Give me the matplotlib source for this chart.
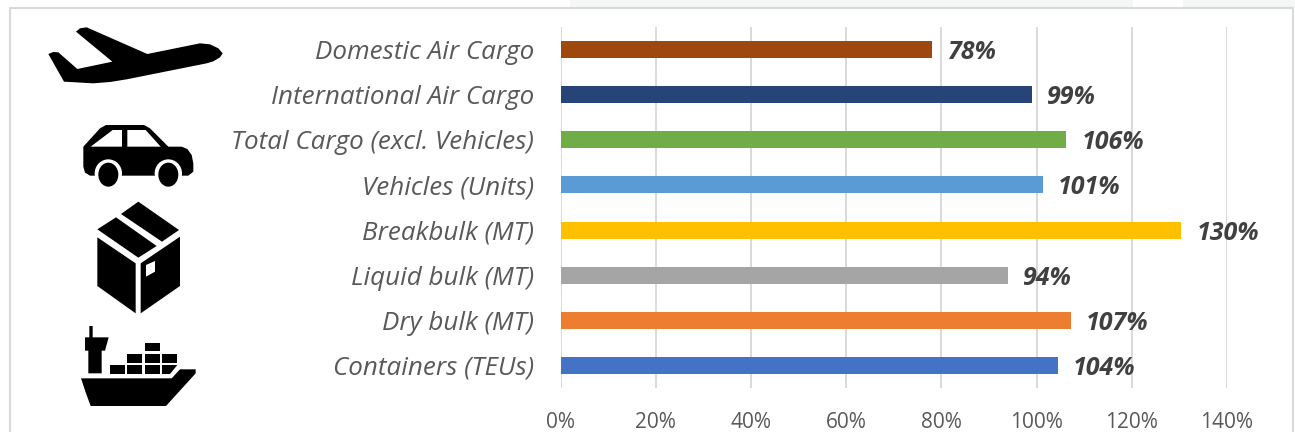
import matplotlib
matplotlib.use("Agg")
import matplotlib.pyplot as plt
from matplotlib.patches import Polygon, Rectangle, Ellipse

# chart data, bottom to top
categories = ["Containers (TEUs)", "Dry bulk (MT)", "Liquid bulk (MT)", "Breakbulk (MT)",
              "Vehicles (Units)", "Total Cargo (excl. Vehicles)", "International Air Cargo", "Domestic Air Cargo"]
values = [104.4, 107.2, 94, 130.4, 101.3, 106.2, 99, 78]
colors = ["#4472C4", "#ED7D31", "#A5A5A5", "#FFC000", "#5B9BD5", "#70AD47", "#264478", "#9E480E"]
x_ticks = [0, 20, 40, 60, 80, 100, 120, 140]

W, H = 1295, 432

plt.rcParams['font.family'] = ['Open Sans', 'DejaVu Sans']
fig = plt.figure(figsize=(W / 100, H / 100), dpi=100, facecolor="white")

# overlay in pixel coordinates for the frame and the icons
bg = fig.add_axes([0, 0, 1, 1], zorder=0)
bg.set_xlim(0, W)
bg.set_ylim(H, 0)
bg.axis("off")

# faint shapes above the frame
bg.add_patch(Rectangle((570, 0), 563, 7, fc="#f5f6f6", ec="none"))
bg.add_patch(Rectangle((1183, 0), 112, 7, fc="#f5f6f6", ec="none"))
# frame
bg.plot([9.5, 9.5, 1293, 1293], [H, 8, 8, H], color="#d9d9d9", lw=1.5)

ax = fig.add_axes([560.5 / W, 1 - 388 / H, 666.5 / W, 361 / H], zorder=1)
ax.patch.set_alpha(0)
y = list(range(len(categories)))
ax.barh(y, values, height=0.377, color=colors, zorder=3)
ax.set_xlim(0, 140)
ax.set_ylim(-0.5, len(categories) - 0.5)
ax.set_xticks(x_ticks)
ax.set_xticklabels([f"{t}%" for t in x_ticks], fontsize=15, color="#595959")
ax.set_yticks(y)
ax.set_yticklabels(categories, fontsize=18.7, style="italic", color="#595959")
ax.tick_params(axis="both", length=0)
ax.tick_params(axis="x", pad=17)
ax.tick_params(axis="y", pad=19)
ax.grid(axis="x", color="#d9d9d9", lw=1.4, zorder=0)
for s in ax.spines.values():
    s.set_visible(False)

for i, v in enumerate(values):
    ax.annotate(f"{v:.0f}%", (v, i), xytext=(11, -2.2), textcoords="offset points", va="center", ha="left",
                fontsize=18, style="italic", weight="bold", color="#404040", zorder=4)


def poly(pts, color="black", z=2):
    bg.add_patch(Polygon([(px / 3, py / 3) for px, py in pts], closed=True, fc=color, ec="none", zorder=z))


def box(x0, y0, x1, y1):
    poly([(x0, y0), (x1, y0), (x1, y1), (x0, y1)])


def ell(cx, cy, rx, ry, color="black", z=3):
    bg.add_patch(Ellipse((cx / 3, cy / 3), 2 * rx / 3, 2 * ry / 3, fc=color, ec="none", zorder=z))


# plane
poly([(145, 162), (160, 156), (175, 157), (232, 207), (337, 185), (228, 95), (240, 85), (260, 82), (442, 162),
      (600, 130), (630, 133), (655, 145), (668, 160), (660, 172), (640, 184), (620, 190), (380, 238), (330, 246),
      (280, 250), (192, 245)])

# car
poly([(250, 440), (300, 385), (318, 375), (432, 375), (450, 385), (505, 440), (545, 440), (562, 447), (575, 465),
      (580, 490), (580, 515), (565, 527), (270, 527), (255, 518), (250, 500)])
poly([(272, 440), (338, 390), (366, 390), (366, 440)], "white", 3)
poly([(382, 390), (437, 390), (482, 440), (382, 440)], "white", 3)
for cx in (325, 505):
    ell(cx, 520, 41, 42, "white", 3)
    ell(cx, 524, 30, 36, "black", 4)

# box
poly([(415, 605), (537, 690), (486, 725), (363, 642)])
poly([(348, 652), (470, 738), (415, 773), (292, 688)])
poly([(292, 712), (407, 790), (407, 940), (292, 858)])
poly([(422, 790), (540, 710), (540, 858), (422, 940)])
poly([(438, 795), (465, 783), (465, 815), (438, 830)], "white", 3)

# ship
poly([(243, 1135), (515, 1135), (540, 1108), (587, 1108), (587, 1120), (498, 1218), (272, 1218), (258, 1180)])
poly([(255, 1012), (268, 1012), (268, 978), (278, 978), (278, 1012), (326, 1012), (315, 1052), (305, 1052),
      (305, 1120), (265, 1120), (265, 1052), (255, 1052)])
box(330, 1095, 375, 1122)
box(381, 1095, 427, 1122)
box(435, 1095, 480, 1122)
poly([(486, 1095), (532, 1095), (510, 1122), (486, 1122)])
box(381, 1062, 427, 1088)
box(435, 1062, 480, 1088)
box(486, 1062, 532, 1088)
box(435, 1028, 480, 1053)

fig.savefig("out.png", dpi=100)
